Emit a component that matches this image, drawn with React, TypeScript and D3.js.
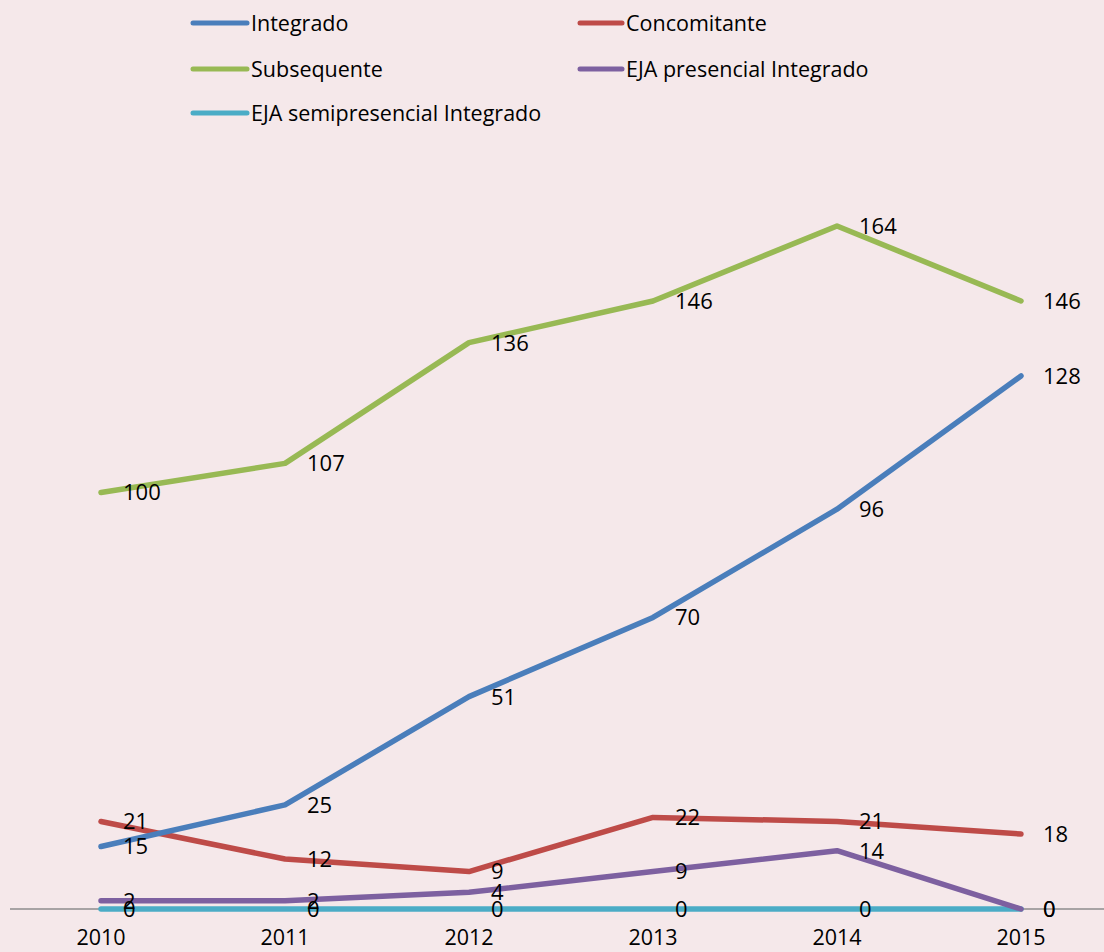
import React from "react";
import * as d3 from "d3";

const years = ["2010", "2011", "2012", "2013", "2014", "2015"];
const integrado = [15, 25, 51, 70, 96, 128];
const concomitante = [21, 12, 9, 22, 21, 18];
const subsequente = [100, 107, 136, 146, 164, 146];
const ejaPresencial = [2, 2, 4, 9, 14, 0];
const ejaSemi = [0, 0, 0, 0, 0, 0];

const seriesNames = ["Integrado", "Concomitante", "Subsequente", "EJA presencial Integrado", "EJA semipresencial Integrado"];
const seriesColors = ["#4A7EBB", "#BE4B48", "#98B954", "#7D60A0", "#4BACC6"];
const seriesValues = [integrado, concomitante, subsequente, ejaPresencial, ejaSemi];

const W = 1104;
const H = 952;
const FONT = "'Open Sans', 'Noto Sans', sans-serif";

export default function App() {
  const x = d3.scalePoint<string>().domain(years).range([101, 1021]);
  const y = d3.scaleLinear().domain([0, 164]).range([909, 226]);
  const line = d3
    .line<number>()
    .x((_, i) => x(years[i]) as number)
    .y((d) => y(d));

  const order = [4, 3, 1, 0, 2];
  const legendPos = [
    { x: 193, y: 23 },
    { x: 580, y: 23 },
    { x: 193, y: 69 },
    { x: 580, y: 69 },
    { x: 193, y: 113 },
  ];

  return (
    <svg width={W} height={H} style={{ position: "absolute", left: 0, top: 0, display: "block" }} fontFamily={FONT}>
      <rect x={0} y={0} width={W} height={H} fill="#F5E8EA" />
      {seriesNames.map((n, i) => (
        <g key={n}>
          <line x1={legendPos[i].x} x2={legendPos[i].x + 54 - (i % 2 === 1 ? 12 : 0)} y1={legendPos[i].y} y2={legendPos[i].y} stroke={seriesColors[i]} strokeWidth={5} strokeLinecap="round" />
          <text x={legendPos[i].x + 58 - (i % 2 === 1 ? 12 : 0)} y={legendPos[i].y} dy="0.35em" fontSize={21.5} fill="#000">
            {n}
          </text>
        </g>
      ))}
      <line x1={10} x2={W} y1={y(0)} y2={y(0)} stroke="#8C8C8C" strokeWidth={1.5} />
      {years.map((yr) => (
        <text key={yr} x={x(yr)} y={945} textAnchor="middle" fontSize={21.5} fill="#000">
          {yr}
        </text>
      ))}
      {order.map((si) => (
        <path key={si} d={line(seriesValues[si]) || ""} fill="none" stroke={seriesColors[si]} strokeWidth={5.5} strokeLinejoin="round" strokeLinecap="round" />
      ))}
      {order.map((si) => (
        <g key={"l" + si}>
          {seriesValues[si].map((v, i) => (
            <text key={i} x={(x(years[i]) as number) + 22} y={y(v)} dy="0.36em" fontSize={22} fill="#000">
              {v}
            </text>
          ))}
        </g>
      ))}
    </svg>
  );
}
